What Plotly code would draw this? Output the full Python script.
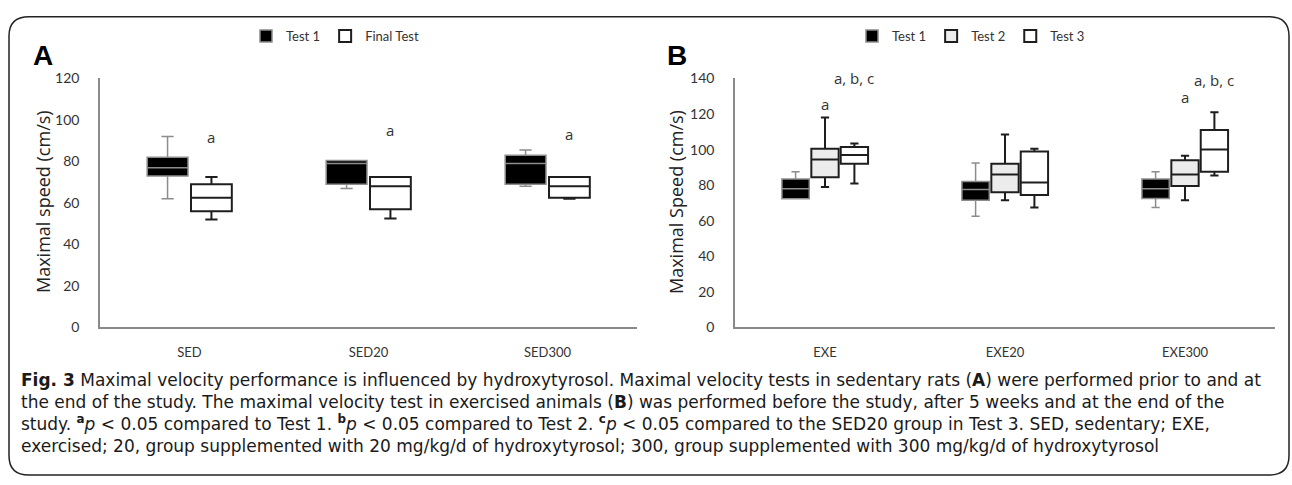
import plotly.graph_objects as go

W, H = 1292, 485

# ---------------- data ----------------
cats_a = ["SED", "SED20", "SED300"]
a_t1_min = [62, 67, 68]
a_t1_q1 = [73, 69, 69]
a_t1_med = [77, 79, 79]
a_t1_q3 = [82, 80.5, 83]
a_t1_max = [92, 80.5, 85.5]

a_ft_min = [52, 52.5, 62]
a_ft_q1 = [56, 57, 62.5]
a_ft_med = [62.5, 68, 68]
a_ft_q3 = [69, 72.5, 72.5]
a_ft_max = [72.5, 72.5, 72.5]

cats_b = ["EXE", "EXE20", "EXE300"]
b_t1_min = [72.3, 62.5, 67.5]
b_t1_q1 = [72.3, 71.5, 72.5]
b_t1_med = [78, 77.5, 78]
b_t1_q3 = [83.5, 82, 83.5]
b_t1_max = [87.5, 92.5, 87.5]

b_t2_min = [79, 71.5, 71.5]
b_t2_q1 = [84.5, 76, 79.5]
b_t2_med = [94.5, 86, 86]
b_t2_q3 = [100.5, 92, 94]
b_t2_max = [118, 108.5, 96.5]

b_t3_min = [81, 67.5, 85.5]
b_t3_q1 = [92, 74.5, 87.5]
b_t3_med = [97, 81.5, 100]
b_t3_q3 = [101.5, 99, 111]
b_t3_max = [103.5, 100.5, 121]

ticks_a = [0, 20, 40, 60, 80, 100, 120]
ticks_b = [0, 20, 40, 60, 80, 100, 120, 140]

# significance labels: category index, trace index in group, text, label height
sig_a_cat = [0, 1, 2]
sig_a_trace = [1, 1, 1]
sig_a_text = ["a", "a", "a"]
sig_a_y = [92, 95, 93]

sig_b_cat = [0, 0, 2, 2]
sig_b_trace = [1, 2, 1, 2]
sig_b_text = ["a", "a, b, c", "a", "a, b, c"]
sig_b_y = [125.5, 140, 129.5, 139]

caption_lines = [
    "<b>Fig. 3</b> Maximal velocity performance is influenced by hydroxytyrosol. Maximal velocity tests in sedentary rats (<b>A</b>) were performed prior to and at",
    "the end of the study. The maximal velocity test in exercised animals (<b>B</b>) was performed before the study, after 5 weeks and at the end of the",
    "study. <sup><b>a</b></sup><i>p</i> &lt; 0.05 compared to Test 1. <sup><b>b</b></sup><i>p</i> &lt; 0.05 compared to Test 2. <sup><b>c</b></sup><i>p</i> &lt; 0.05 compared to the SED20 group in Test 3. SED, sedentary; EXE,",
    "exercised; 20, group supplemented with 20 mg/kg/d of hydroxytyrosol; 300, group supplemented with 300 mg/kg/d of hydroxytyrosol",
]

# ---------------- layout helpers ----------------
def px(x):
    return x / W


def py(y):
    return 1 - y / H


BOXGAP = 0.51
BOXGROUPGAP = 0.07
TICKFONT = dict(family="Lato, Open Sans, sans-serif", size=14, color="#333333")
CATFONT = dict(family="Lato, Open Sans, sans-serif", size=13, color="#333333")
AXCOL = "#8a8a8a"

fig = go.Figure()


def add_box(cats, lo, q1, med, q3, hi, name, fill, lcol, lw, xa, ya, leg, agroup):
    fig.add_trace(go.Box(
        x=cats, lowerfence=lo, q1=q1, median=med, q3=q3, upperfence=hi,
        name=name, fillcolor=fill, line=dict(color=lcol, width=lw),
        whiskerwidth=0.3, xaxis=xa, yaxis=ya, legend=leg, hoverinfo="skip",
        alignmentgroup=agroup, offsetgroup=agroup + name,
    ))


add_box(cats_a, a_t1_min, a_t1_q1, a_t1_med, a_t1_q3, a_t1_max, "Test 1", "#000000", "#8c8c8c", 1.5, "x", "y", "legend", "A")
add_box(cats_a, a_ft_min, a_ft_q1, a_ft_med, a_ft_q3, a_ft_max, "Final Test", "#ffffff", "#1e1e1e", 2, "x", "y", "legend", "A")

add_box(cats_b, b_t1_min, b_t1_q1, b_t1_med, b_t1_q3, b_t1_max, "Test 1", "#000000", "#8c8c8c", 1.5, "x2", "y2", "legend2", "B")
add_box(cats_b, b_t2_min, b_t2_q1, b_t2_med, b_t2_q3, b_t2_max, "Test 2", "#ececec", "#1e1e1e", 2, "x2", "y2", "legend2", "B")
add_box(cats_b, b_t3_min, b_t3_q1, b_t3_med, b_t3_q3, b_t3_max, "Test 3", "#ffffff", "#1e1e1e", 2, "x2", "y2", "legend2", "B")


def xaxis_cfg(x0, x1, cats, anchor):
    return dict(
        domain=[px(x0), px(x1)], anchor=anchor, type="category",
        categoryorder="array", categoryarray=cats, range=[-0.5, len(cats) - 0.5],
        showline=True, linecolor=AXCOL, linewidth=1.5, showgrid=False, zeroline=False,
        ticks="outside", ticklen=12, tickcolor="rgba(0,0,0,0)", tickfont=CATFONT,
        fixedrange=True,
    )


def yaxis_cfg(top, ticks, anchor):
    return dict(
        domain=[py(330), py(72)], anchor=anchor, range=[0, top],
        tickvals=ticks, showline=True, linecolor=AXCOL, linewidth=1.5,
        showgrid=False, zeroline=False, ticks="outside", ticklen=16,
        tickcolor="rgba(0,0,0,0)", tickfont=TICKFONT, fixedrange=True,
    )


annotations = []


def group_offset(trace_i, n):
    width = 1 - BOXGAP
    return -width / 2 + (trace_i + 0.5) * width / n


sig_font = dict(family="Open Sans, sans-serif", size=15, color="#333333")
for c, t, txt, y in zip(sig_a_cat, sig_a_trace, sig_a_text, sig_a_y):
    annotations.append(dict(x=c + group_offset(t, 2), y=y, xref="x", yref="y", text=txt,
                            xanchor="center", yanchor="middle", showarrow=False, font=sig_font))
for c, t, txt, y in zip(sig_b_cat, sig_b_trace, sig_b_text, sig_b_y):
    annotations.append(dict(x=c + group_offset(t, 3), y=y, xref="x2", yref="y2", text=txt,
                            xanchor="center", yanchor="middle", showarrow=False, font=sig_font))

# axis titles and panel letters
title_font = dict(family="Open Sans, sans-serif", size=18, color="#222222")
annotations.append(dict(x=px(43), y=py(200), xref="paper", yref="paper", text="Maximal speed (cm/s)",
                        textangle=-90, xanchor="center", yanchor="middle", showarrow=False, font=title_font))
annotations.append(dict(x=px(676), y=py(200), xref="paper", yref="paper", text="Maximal Speed (cm/s)",
                        textangle=-90, xanchor="center", yanchor="middle", showarrow=False, font=title_font))
letter_font = dict(family="Liberation Sans, Arial, sans-serif", size=28, color="#000000")
annotations.append(dict(x=px(43), y=py(48), xref="paper", yref="paper", text="<b>A</b>",
                        xanchor="center", yanchor="middle", showarrow=False, font=letter_font))
annotations.append(dict(x=px(677), y=py(48), xref="paper", yref="paper", text="<b>B</b>",
                        xanchor="center", yanchor="middle", showarrow=False, font=letter_font))

annotations.append(dict(x=px(19), y=py(372), xref="paper", yref="paper", text="<br>".join(caption_lines),
                        xanchor="left", yanchor="top", align="left", showarrow=False,
                        font=dict(family="DejaVu Sans, sans-serif", size=17, color="#1a1a1a")))

# rounded border
x0, x1, y0, y1, r = 9, 1289, 8, 483, 20
path = (
    f"M{px(x0 + r)},{py(y0)} L{px(x1 - r)},{py(y0)} Q{px(x1)},{py(y0)} {px(x1)},{py(y0 + r)} "
    f"L{px(x1)},{py(y1 - r)} Q{px(x1)},{py(y1)} {px(x1 - r)},{py(y1)} "
    f"L{px(x0 + r)},{py(y1)} Q{px(x0)},{py(y1)} {px(x0)},{py(y1 - r)} "
    f"L{px(x0)},{py(y0 + r)} Q{px(x0)},{py(y0)} {px(x0 + r)},{py(y0)} Z"
)

legend_font = dict(family="Lato, Open Sans, sans-serif", size=13, color="#333333")

fig.update_layout(
    width=W, height=H, margin=dict(l=0, r=0, t=0, b=0),
    paper_bgcolor="white", plot_bgcolor="white",
    boxmode="group", boxgap=BOXGAP, boxgroupgap=BOXGROUPGAP,
    hovermode=False,
    xaxis=xaxis_cfg(100, 637, cats_a, "y"),
    yaxis=yaxis_cfg(120, ticks_a, "x"),
    xaxis2=xaxis_cfg(735, 1275, cats_b, "y2"),
    yaxis2=yaxis_cfg(140, ticks_b, "x2"),
    legend=dict(orientation="h", x=px(335), y=py(28), xanchor="center", yanchor="middle",
                font=legend_font, bgcolor="rgba(0,0,0,0)", itemwidth=30, itemclick=False),
    legend2=dict(orientation="h", x=px(971), y=py(28), xanchor="center", yanchor="middle",
                 font=legend_font, bgcolor="rgba(0,0,0,0)", itemwidth=30, itemclick=False),
    annotations=annotations,
    shapes=[dict(type="path", path=path, xref="paper", yref="paper",
                 line=dict(color="#222222", width=1.5))],
)

fig.write_html("out.html")
